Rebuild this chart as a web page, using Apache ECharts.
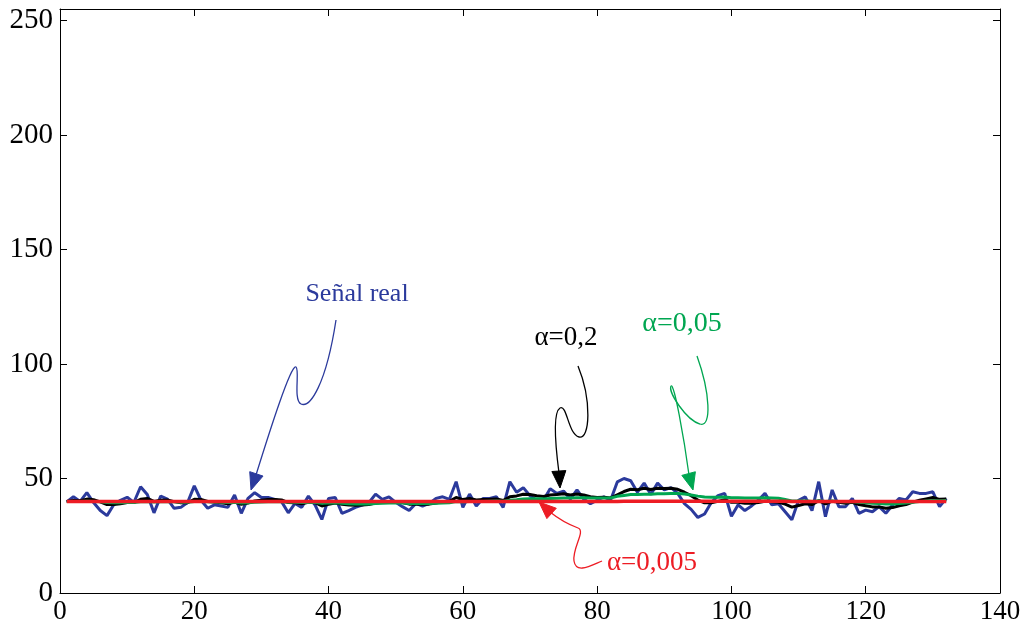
<!DOCTYPE html>
<html>
<head>
<meta charset="utf-8">
<style>
  html, body { margin: 0; padding: 0; background: #ffffff; }
  #chart { width: 1024px; height: 630px; }
</style>
<script src="https://cdn.jsdelivr.net/npm/echarts@6/dist/echarts.min.js"></script>
</head>
<body>
<div id="chart"></div>
<script>
// Sample index (1..132)
const sampleCount = 132;

// Measured signal ("Señal real")
const senalReal = [
  39.8, 42, 40, 43.8, 39.5, 36, 33.8, 38.5, 40.5, 41.8,
  39.5, 46.4, 43, 35, 42.3, 41, 37, 37.4, 39.5, 46.8,
  40.5, 37, 38.5, 38, 37.4, 42.8, 34.8, 41.3, 43.8, 41.7,
  41.7, 40.9, 39.9, 35, 39.1, 37.4, 42.3, 38.4, 32.1, 41.3,
  41.7, 34.8, 36, 37.4, 38.4, 39.4, 43.2, 40.9, 42, 39.6,
  37.7, 36, 39.1, 38, 39.1, 41.3, 42, 40.9, 48.6, 37.4,
  43.2, 38, 41.3, 41.3, 42, 37.4, 48.6, 44, 46, 42.5,
  40.5, 40.5, 45.5, 43.5, 44.5, 41, 45, 41, 39, 40.5,
  42, 40.5, 48.5, 50, 49, 44, 48, 43, 48, 45,
  46, 43.5, 39, 36.5, 33, 34.5, 39.5, 42.5, 43.5, 33.5,
  38.5, 36, 38, 40.5, 43.5, 38.5, 39, 35.5, 32, 40.5,
  42, 36, 48.6, 33.3, 45, 37.7, 37.7, 41.3, 34.8, 36.2,
  35.5, 37.7, 34.8, 38.4, 41.3, 40.6, 44.2, 43.5, 43.5, 44.2,
  37.7, 41.3
];

// Filtered signal, alpha = 0.2
const alfa02 = [
  40, 40.4, 40.3, 41, 40.7, 39.8, 38.6, 38.6, 39, 39.5,
  39.5, 40.9, 41.3, 40, 40.5, 40.6, 39.9, 39.4, 39.4, 40.9,
  40.8, 40, 39.7, 39.4, 39, 39.7, 38.7, 39.3, 40.2, 40.5,
  40.8, 40.8, 40.6, 39.5, 39.4, 39, 39.6, 39.4, 38, 38.7,
  39.3, 38.7, 38.4, 38.3, 38.4, 38.6, 39.3, 39.6, 40, 40,
  39.5, 38.8, 38.9, 38.7, 38.8, 39.3, 39.8, 40, 41.7, 40.8,
  41.3, 40.6, 40.8, 40.9, 41.1, 40.4, 42, 42.4, 43.1, 43,
  42.5, 42.1, 42.8, 43, 43.3, 42.8, 43.2, 42.8, 42, 41.7,
  41.8, 41.5, 42.9, 44.3, 45.3, 45.1, 45.7, 45.2, 45.7, 45.6,
  45.7, 45.3, 44, 42.5, 40.6, 39.4, 39.4, 40, 40.7, 39.6,
  39.6, 39.2, 39.2, 39.5, 40.1, 39.8, 39.6, 38.8, 37.5, 38.2,
  39, 38.6, 40.3, 38.9, 40.1, 39.6, 39.2, 39.6, 38.6, 38.1,
  37.6, 37.6, 37, 37.3, 38.1, 38.6, 39.7, 40.5, 41.1, 41.7,
  40.9, 41
];

// Filtered signal, alpha = 0.05
const alfa005 = [
  40, 40, 40, 40.1, 40, 39.8, 39.5, 39.4, 39.4, 39.5,
  39.5, 39.8, 40, 39.7, 39.8, 39.9, 39.8, 39.6, 39.6, 39.9,
  40, 39.8, 39.7, 39.6, 39.5, 39.6, 39.3, 39.4, 39.6, 39.7,
  39.8, 39.8, 39.8, 39.6, 39.6, 39.5, 39.6, 39.5, 39.2, 39.3,
  39.4, 39.2, 39, 38.9, 38.9, 38.9, 39.1, 39.2, 39.3, 39.3,
  39.3, 39.1, 39.1, 39.1, 39.1, 39.2, 39.3, 39.4, 39.9, 39.8,
  40, 39.9, 40, 40.1, 40.2, 40.1, 40.5, 40.7, 41, 41.1,
  41.1, 41.1, 41.3, 41.4, 41.5, 41.5, 41.6, 41.6, 41.5, 41.5,
  41.5, 41.5, 42.2, 42.6, 43, 43, 43.1, 43.1, 43.3, 43.3,
  43.4, 43.4, 43.2, 42.8, 42.3, 41.9, 41.8, 41.8, 41.9, 41.6,
  41.6, 41.5, 41.5, 41.5, 41.6, 41.5, 41.4, 40.8, 40.2, 40.2,
  40.3, 40, 40.3, 40, 40.2, 40, 39.8, 39.9, 39.6, 39.4,
  39.2, 39.1, 38.9, 38.9, 39.1, 39.3, 39.6, 39.9, 40.2, 40.4,
  40.3, 40.4
];

// Filtered signal, alpha = 0.005
const alfa0005 = [
  40, 40, 40, 40, 40, 40, 40, 40, 40, 40,
  40, 40, 40, 40, 40, 40, 40, 40, 40, 40,
  40, 40, 40, 40, 40, 40, 40, 40, 40, 40,
  40, 40, 40, 40, 40, 40, 40, 40, 39.9, 39.9,
  39.9, 39.9, 39.9, 39.9, 39.9, 39.9, 39.9, 39.9, 39.9, 39.9,
  39.9, 39.9, 39.9, 39.9, 39.9, 39.9, 39.9, 39.9, 39.9, 39.9,
  39.9, 39.9, 39.9, 39.9, 39.9, 39.9, 40, 40, 40, 40,
  40, 40, 40, 40, 40, 40, 40, 40, 40, 40,
  40, 40, 40, 40.1, 40.1, 40.1, 40.1, 40.1, 40.1, 40.1,
  40.1, 40.1, 40.1, 40.1, 40.1, 40.1, 40.1, 40.1, 40.1, 40.1,
  40.1, 40.1, 40.1, 40.1, 40.1, 40.1, 40.1, 40.1, 40, 40,
  40, 40, 40, 40, 40, 40, 40, 40, 40, 40,
  40, 40, 40, 40, 40, 40, 40, 40, 40, 40,
  40, 40
];

// Axis tick labels
const xTicks = [0, 20, 40, 60, 80, 100, 120, 140];
const yTicks = [0, 50, 100, 150, 200, 250];

const samples = Array.from({ length: sampleCount }, (_, i) => i + 1);
const pairs = arr => samples.map((x, i) => [x, arr[i]]);

const FONT = '"Liberation Serif", "DejaVu Serif", serif';
const chart = echarts.init(document.getElementById('chart'), null, { renderer: 'canvas' });

const axisBase = {
  type: 'value',
  axisLine: { show: true, onZero: false, lineStyle: { color: '#000', width: 1 } },
  splitLine: { show: false }
};

// Arrowhead at `tip`, pointing away from `from`
function arrowHead(tip, from, color) {
  const dx = tip[0] - from[0], dy = tip[1] - from[1];
  const len = Math.hypot(dx, dy) || 1;
  const ux = dx / len, uy = dy / len;
  const L = 17, W = 7;
  const bx = tip[0] - ux * L, by = tip[1] - uy * L;
  return {
    type: 'polygon',
    shape: { points: [tip, [bx - uy * W, by + ux * W], [bx + uy * W, by - ux * W]] },
    style: { fill: color, stroke: color, lineWidth: 1 },
    z: 20
  };
}
// Chain of cubic segments: start point, then [c1x,c1y,c2x,c2y,x,y] per segment
function curve(start, segs, color) {
  const out = [];
  let p = start;
  segs.forEach(s => {
    out.push({
      type: 'bezierCurve',
      shape: { x1: p[0], y1: p[1], cpx1: s[0], cpy1: s[1], cpx2: s[2], cpy2: s[3], x2: s[4], y2: s[5] },
      style: { stroke: color, fill: null, lineWidth: 1.3 },
      z: 20
    });
    p = [s[4], s[5]];
  });
  return out;
}
function label(text, x, y, color, size) {
  return {
    type: 'text',
    x: x, y: y,
    style: { text: text, fill: color, font: size + 'px ' + FONT, textAlign: 'center', textVerticalAlign: 'middle' },
    z: 20
  };
}

const BLUE = '#2b3a9c', BLACK = '#000000', GREEN = '#00a651', RED = '#ed1c24';

const annotations = [].concat(
  [label('Señal real', 357, 294, BLUE, 26)],
  curve([336, 320], [
    [326, 385, 310, 408, 301, 404],
    [293, 400, 300, 370, 296, 367],
    [291, 364, 270, 430, 256, 475]
  ], BLUE),
  [arrowHead([251, 490], [256, 475], BLUE)],

  [label('α=0,2', 566, 338, BLACK, 27)],
  curve([578, 366], [
    [592, 400, 590, 440, 579, 437],
    [568, 434, 567, 404, 560, 408],
    [552, 413, 556, 450, 559, 473]
  ], BLACK),
  [arrowHead([560, 488], [559, 473], BLACK)],

  [label('α=0,05', 682, 324, GREEN, 28)],
  curve([697, 356], [
    [710, 392, 712, 428, 700, 424],
    [686, 420, 668, 392, 671, 386],
    [674, 382, 684, 438, 689, 475]
  ], GREEN),
  [arrowHead([693, 490], [689, 475], GREEN)],

  [label('α=0,005', 652, 563, RED, 27)],
  curve([602, 561], [
    [590, 566, 576, 574, 574, 561],
    [572, 548, 586, 531, 578, 528],
    [570, 525, 560, 520, 550, 512]
  ], RED),
  [arrowHead([539, 502], [550, 512], RED)]
);

const option = {
  animation: false,
  backgroundColor: '#ffffff',
  grid: { left: 60, right: 24, top: 9, bottom: 37 },
  xAxis: [
    Object.assign({}, axisBase, {
      min: 0, max: 140, interval: 20, position: 'bottom',
      axisTick: { show: true, inside: true, length: 7, lineStyle: { color: '#000' } },
      axisLabel: { show: true, margin: 5, color: '#000', fontFamily: FONT, fontSize: 27 }
    }),
    Object.assign({}, axisBase, {
      min: 0, max: 140, interval: 20, position: 'top',
      axisTick: { show: true, inside: true, length: 7, lineStyle: { color: '#000' } },
      axisLabel: { show: false }
    })
  ],
  yAxis: [
    Object.assign({}, axisBase, {
      min: 0, max: 255, interval: 50, position: 'left',
      axisTick: { show: true, inside: true, length: 7, customValues: yTicks, lineStyle: { color: '#000' } },
      axisLabel: { show: true, margin: 7, color: '#000', fontFamily: FONT, fontSize: 29, customValues: yTicks }
    }),
    Object.assign({}, axisBase, {
      min: 0, max: 255, interval: 50, position: 'right',
      axisTick: { show: true, inside: true, length: 7, customValues: yTicks, lineStyle: { color: '#000' } },
      axisLabel: { show: false }
    })
  ],
  series: [
    { name: 'Señal real', type: 'line', data: pairs(senalReal), showSymbol: false,
      lineStyle: { color: BLUE, width: 3 }, z: 2 },
    { name: 'α=0,2', type: 'line', data: pairs(alfa02), showSymbol: false,
      lineStyle: { color: BLACK, width: 3 }, z: 3 },
    { name: 'α=0,05', type: 'line', data: pairs(alfa005), showSymbol: false,
      lineStyle: { color: GREEN, width: 3 }, z: 4 },
    { name: 'α=0,005', type: 'line', data: pairs(alfa0005), showSymbol: false,
      lineStyle: { color: RED, width: 3.5 }, z: 5 }
  ],
  graphic: annotations
};

chart.setOption(option);
</script>
</body>
</html>
